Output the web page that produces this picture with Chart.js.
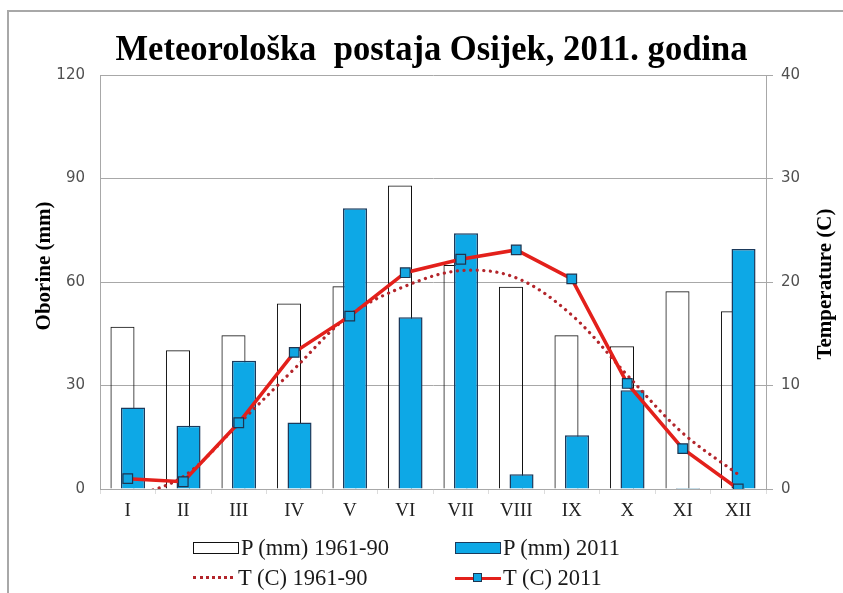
<!DOCTYPE html>
<html>
<head>
<meta charset="utf-8">
<script src="https://cdn.jsdelivr.net/npm/chart.js@4.4.1/dist/chart.umd.min.js"></script>
<style>
  body { margin: 0; background: #fff; }
  #wrap { position: relative; width: 843px; height: 593px; overflow: hidden; }
  #frame { position: absolute; left: 7px; top: 10px; width: 900px; height: 700px;
           border-left: 2px solid #a8a8a8; border-top: 2px solid #a8a8a8; }
  #title { position: absolute; left: 10px; top: 27px; width: 843px; text-align: center;
           font: bold 36px "Liberation Serif"; color: #000; white-space: pre;
           transform: scaleX(0.96); transform-origin: 50% 50%; }
  canvas { position: absolute; left: 0; top: 0; }
  .item { position: absolute; height: 24px; display: flex; align-items: center;
          font: 22.5px "Liberation Serif"; color: #1a1a1a; white-space: pre; }
  .sw { position: relative; height: 24px; margin-right: 2px; }
</style>
</head>
<body>
<div id="wrap">
  <div id="frame"></div>
  <canvas id="chart" width="843" height="593"></canvas>
  <div id="title">Meteorološka  postaja Osijek, 2011. godina</div>
  <div id="legend"></div>
</div>
<script>
const months = ["I", "II", "III", "IV", "V", "VI", "VII", "VIII", "IX", "X", "XI", "XII"];
const rain1961 = [47, 40.2, 44.6, 53.8, 58.8, 88, 64.9, 58.6, 44.6, 41.4, 57.3, 51.5];
const rain2011 = [23.6, 18.3, 37.2, 19.3, 81.4, 49.8, 74.1, 4.3, 15.6, 28.6, 0.3, 69.6];
const temp1961 = [-0.9, 1.2, 6.3, 11.6, 16.8, 19.6, 21.1, 20.4, 16.8, 11.0, 5.4, 1.4];
const temp2011 = [1.0, 0.7, 6.4, 13.2, 16.7, 20.9, 22.2, 23.1, 20.3, 10.2, 3.9, 0.0];
const rainTicks = [0, 30, 60, 90, 120];
const tempTicks = [0, 10, 20, 30, 40];

const gridGray = "#a8a8a8";

// white bars sit in the left slot but have to be painted under the blue ones
const barLayering = {
  id: "barLayering",
  beforeDatasetDraw(chart, args) {
    if (args.index === 0) return false;
    if (args.index === 1) chart.getDatasetMeta(0).controller.draw();
  },
};

const axisTitles = {
  id: "axisTitles",
  afterDraw(chart) {
    const ctx = chart.ctx;
    ctx.save();
    ctx.font = "bold 21px 'Liberation Serif'";
    ctx.fillStyle = "#000";
    ctx.textAlign = "center";
    ctx.textBaseline = "middle";
    [["Oborine (mm)", 45, 266], ["Temperature (C)", 826, 284]].forEach(([text, x, y]) => {
      ctx.save();
      ctx.translate(x, y);
      ctx.rotate(-Math.PI / 2);
      ctx.fillText(text, 0, 0);
      ctx.restore();
    });
    ctx.restore();
  },
};

const chart = new Chart(document.getElementById("chart"), {
  type: "bar",
  data: {
    labels: months,
    datasets: [
      {
        label: "P (mm) 1961-90",
        data: rain1961,
        backgroundColor: "rgba(255,255,255,0)",
        borderColor: "#111",
        borderWidth: 1,
        categoryPercentage: 0.38,
        barPercentage: 2.28,
        order: 2,
      },
      {
        label: "P (mm) 2011",
        data: rain2011,
        backgroundColor: "#0da8e6",
        borderColor: "#1b3a5c",
        borderWidth: 1.5,
        categoryPercentage: 0.38,
        barPercentage: 2.28,
        order: 3,
      },
      {
        type: "line",
        label: "T (C) 1961-90",
        data: temp1961,
        yAxisID: "y2",
        borderColor: "#b3252b",
        borderWidth: 3.2,
        borderDash: [0.1, 6.5],
        borderCapStyle: "round",
        pointRadius: 0,
        tension: 0.35,
        order: 1,
      },
      {
        type: "line",
        label: "T (C) 2011",
        data: temp2011,
        yAxisID: "y2",
        borderColor: "#e3201b",
        borderWidth: 3.5,
        pointStyle: "rect",
        pointRadius: 6.8,
        pointBackgroundColor: "#12a6e2",
        pointBorderColor: "#1f3550",
        pointBorderWidth: 1.2,
        tension: 0,
        order: 0,
      },
    ],
  },
  options: {
    responsive: false,
    animation: false,
    devicePixelRatio: 1,
    layout: { padding: { top: 75, bottom: 64, left: 0, right: 0 } },
    plugins: {
      legend: { display: false },
      title: { display: false },
      tooltip: { enabled: false },
    },
    scales: {
      x: {
        afterFit: (s) => { s.height = 40; },
        grid: { drawOnChartArea: false, tickLength: 5, color: "#dcdcdc" },
        border: { color: gridGray },
        ticks: { padding: 6, color: "#222", font: { family: "Liberation Serif", size: 19 } },
      },
      y: {
        min: 0,
        max: 120,
        afterFit: (s) => { s.width = 100; },
        afterBuildTicks: (s) => { s.ticks = rainTicks.map((v) => ({ value: v })); },
        grid: { color: gridGray, drawTicks: false },
        border: { color: gridGray },
        ticks: { padding: 15, color: "#505050", font: { family: "DejaVu Sans", size: 15 } },
      },
      y2: {
        position: "right",
        min: 0,
        max: 40,
        afterFit: (s) => { s.width = 77; },
        afterBuildTicks: (s) => { s.ticks = tempTicks.map((v) => ({ value: v })); },
        grid: { drawOnChartArea: false, tickLength: 7, color: gridGray },
        border: { color: gridGray },
        ticks: { padding: 8, color: "#505050", font: { family: "DejaVu Sans", size: 15 } },
      },
    },
  },
  plugins: [barLayering, axisTitles],
});

function buildLegend(chart) {
  const legend = document.getElementById("legend");
  const spots = [[193, 536], [455, 536], [193, 566], [455, 566]];
  chart.data.datasets.forEach((ds, i) => {
    const item = document.createElement("div");
    item.className = "item";
    item.style.left = spots[i][0] + "px";
    item.style.top = spots[i][1] + "px";
    const sw = document.createElement("div");
    sw.className = "sw";
    sw.style.width = "46px";
    if (ds.type === "line" && ds.borderDash) {
      const line = document.createElement("div");
      line.style.cssText = "position:absolute;left:0;right:0;top:10px;";
      line.style.borderTop = "3px dotted " + ds.borderColor;
      sw.style.width = "40px";
      sw.style.marginRight = "5px";
      sw.appendChild(line);
    } else if (ds.type === "line") {
      const line = document.createElement("div");
      line.style.cssText = "position:absolute;left:0;right:0;top:11px;height:3px;";
      line.style.background = ds.borderColor;
      const mark = document.createElement("div");
      mark.style.cssText = "position:absolute;left:18px;top:7px;width:9px;height:9px;box-sizing:border-box;";
      mark.style.background = ds.pointBackgroundColor;
      mark.style.border = "1px solid " + ds.pointBorderColor;
      sw.appendChild(line);
      sw.appendChild(mark);
    } else {
      const box = document.createElement("div");
      box.style.cssText = "position:absolute;left:0;right:0;top:6px;height:12px;box-sizing:border-box;";
      box.style.background = ds.backgroundColor;
      box.style.border = "1px solid " + ds.borderColor;
      sw.appendChild(box);
    }
    item.appendChild(sw);
    const text = document.createElement("span");
    text.textContent = ds.label;
    item.appendChild(text);
    legend.appendChild(item);
  });
}
buildLegend(chart);
</script>
</body>
</html>
